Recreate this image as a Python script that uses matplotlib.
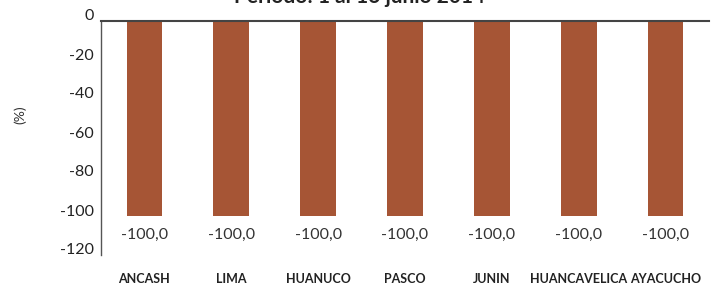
import matplotlib
matplotlib.use("Agg")
import matplotlib.pyplot as plt
import matplotlib.transforms as mtransforms

categories = ["ANCASH", "LIMA", "HUANUCO", "PASCO", "JUNIN", "HUANCAVELICA", "AYACUCHO"]
values = [-100.0, -100.0, -100.0, -100.0, -100.0, -100.0, -100.0]
yticks = [0, -20, -40, -60, -80, -100, -120]
title = "Periodo: 1 al 16 junio 2014"

W, H = 721, 284
fig = plt.figure(figsize=(W / 100, H / 100), dpi=100)
left, right, top, bottom = 101, 709, 21, 255
ax = fig.add_axes([left / W, 1 - bottom / H, (right - left) / W, (bottom - top) / H])

bar_color = "#A65535"
x = list(range(len(categories)))
ax.bar(x, values, width=0.41, color=bar_color, zorder=2)

ax.set_xlim(-0.5, len(categories) - 0.5)
ax.set_ylim(-120, 0)
ax.set_yticks(yticks)
ax.set_yticklabels([str(v) for v in yticks], fontsize=11.5, family="Lato", color="#222222")
ax.tick_params(axis="y", length=0, pad=5)
ax.tick_params(axis="x", length=0, pad=13)
ax.set_xticks(x)
ax.set_xticklabels(categories, fontsize=9, family="Lato", fontweight="bold", color="#222222")

offset = mtransforms.ScaledTranslation(0, 6 / 100, fig.dpi_scale_trans)
for lab in ax.get_yticklabels():
    lab.set_transform(lab.get_transform() + offset)

for spine in ["right", "bottom"]:
    ax.spines[spine].set_visible(False)
ax.spines["left"].set_color("#555555")
ax.spines["left"].set_linewidth(1.0)
ax.spines["top"].set_color("#444444")
ax.spines["top"].set_linewidth(1.5)

for xi, v in zip(x, values):
    ax.annotate(f"{v:.1f}".replace(".", ","), (xi, v), xytext=(0, -13.5),
                textcoords="offset points", ha="center", va="center",
                fontsize=11.5, family="Lato", color="#333333")

fig.text(20 / W, 1 - 115 / H, "(%)", rotation=90, ha="center", va="center",
         fontsize=10, family="Lato", color="#333333")
fig.text(360 / W, 1 - 3 / H, title, ha="center", va="baseline",
         fontsize=15, family="Lato", fontweight="bold", color="#222222")

fig.savefig("out.png", dpi=100)
